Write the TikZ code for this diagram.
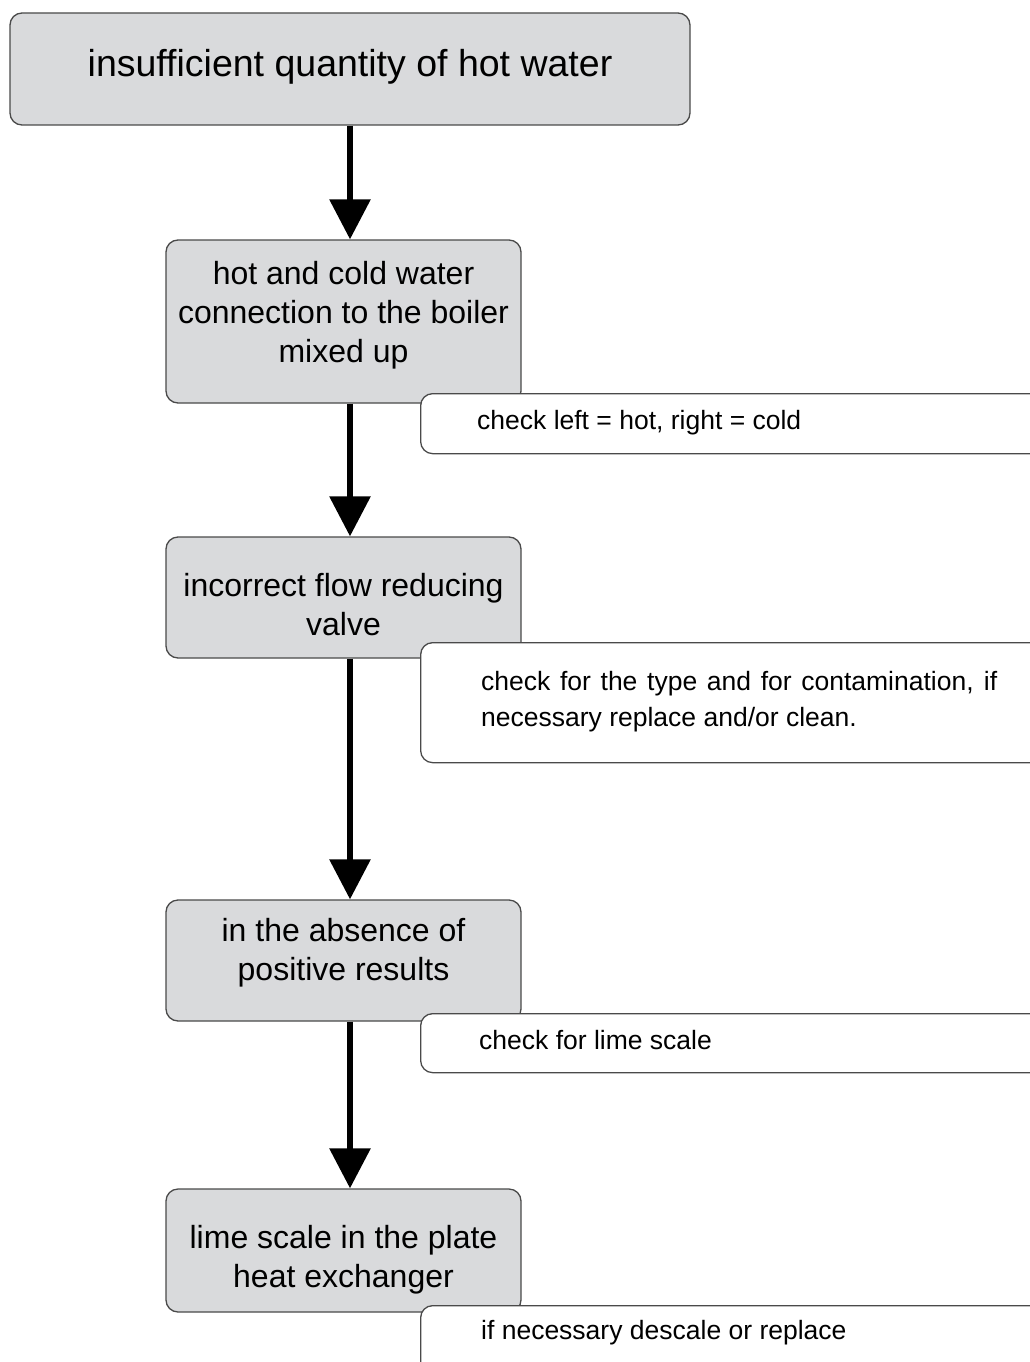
\documentclass[tikz,border=0pt]{standalone}
\usepackage{fontspec}
\setmainfont{Liberation Sans}
\usetikzlibrary{arrows.meta,positioning}
\definecolor{boxfill}{HTML}{D9DADC}
\definecolor{boxline}{HTML}{4A4A4A}
\tikzset{
  cause/.style={draw=boxline, line width=1.3pt, fill=boxfill, rounded corners=12pt, minimum width=355pt, inner sep=0pt},
  topcause/.style={cause, minimum width=680pt, minimum height=112pt},
  causetext/.style={align=center, inner sep=0pt, font=\fontsize{32}{39}\selectfont},
  toptext/.style={align=center, inner sep=0pt, font=\fontsize{37.5}{44}\selectfont},
  notebox/.style={draw=boxline, line width=1.3pt, fill=white, rounded corners=12pt, minimum width=660pt, anchor=north west, inner sep=0pt},
  notetext/.style={anchor=west, align=left, inner sep=0pt, font=\fontsize{26.5}{36}\selectfont},
  flow/.style={line width=6pt, -{Triangle[width=40pt,length=40pt]}}
}
\begin{document}
\begin{tikzpicture}[x=1pt,y=-1pt]
\useasboundingbox (0,0) rectangle (1030,1362);
\clip (0,0) rectangle (1030,1362);
\fill[white] (0,0) rectangle (1030,1362);

\node[topcause] (b1) at (350,69) {};
\node[toptext] (tb1) at (350,67) {insufficient quantity of hot water};

\node[cause, minimum height=163pt] (b2) at (343.5,321.5) {};
\node[causetext] (tb2) at (343.5,315) {hot and cold water\\connection to the boiler\\mixed up};

\node[cause, minimum height=121pt] (b3) at (343.5,597.5) {};
\node[causetext] (tb3) at (343.5,604.5) {incorrect flow reducing\\valve};

\node[cause, minimum height=121pt] (b4) at (343.5,960.5) {};
\node[causetext] (tb4) at (343.5,952.5) {in the absence of\\positive results};

\node[cause, minimum height=123pt] (b5) at (343.5,1250.5) {};
\node[causetext] (tb5) at (343.5,1260) {lime scale in the plate\\heat exchanger};

\draw[flow] (b1.south) -- (b1.south |- b2.north);
\draw[flow] (b2.south -| b1.south) -- (b1.south |- b3.north);
\draw[flow] (b3.south -| b1.south) -- (b1.south |- b4.north);
\draw[flow] (b4.south -| b1.south) -- (b1.south |- b5.north);

\node[notebox, minimum height=60pt] (n1) at (420,393) {};
\node[notetext] (t1) at (477,423) {check left = hot, right = cold};

\node[notebox, minimum height=120pt] (n2) at (420,642) {};
\node[notetext] (t2) at (481,702) {\makebox[516pt][s]{check for the type and for contamination, if}\\necessary replace and/or clean.};

\node[notebox, minimum height=59pt] (n3) at (420,1013) {};
\node[notetext] (t3) at (479,1040) {check for lime scale};

\node[notebox, minimum height=90pt] (n4) at (420,1305) {};
\node[notetext] (t4) at (481,1333) {if necessary descale or replace};
\end{tikzpicture}
\end{document}
